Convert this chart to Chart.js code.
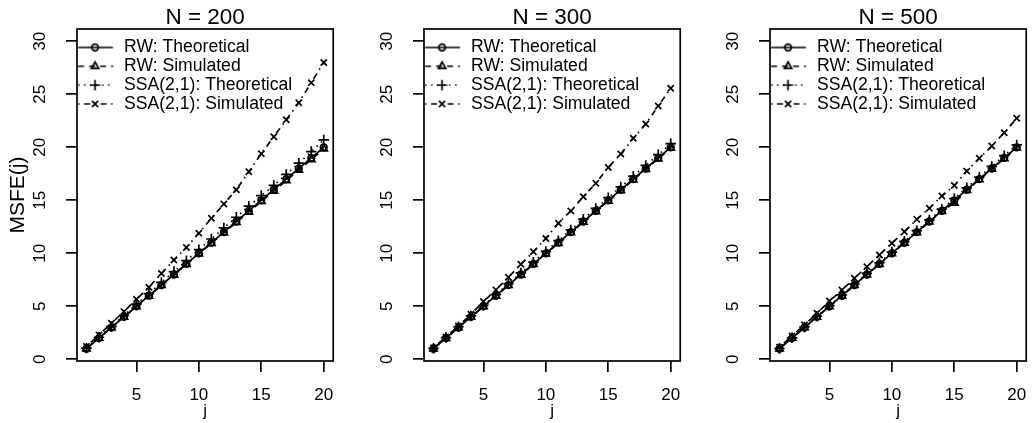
<!DOCTYPE html>
<html>
<head>
<meta charset="utf-8">
<script src="https://cdn.jsdelivr.net/npm/chart.js@4.4.1/dist/chart.umd.min.js"></script>
<style>
html,body{margin:0;padding:0;width:1033px;height:423px;overflow:hidden;background:#fff;}
.p{position:absolute;top:0;width:347px;height:423px;}
canvas{display:block;}
</style>
</head>
<body>
<div class="p" style="left:0px"><canvas id="c0" width="347" height="423"></canvas></div>
<div class="p" style="left:346.5px"><canvas id="c1" width="347" height="423"></canvas></div>
<div class="p" style="left:693px"><canvas id="c2" width="347" height="423"></canvas></div>
<script>
// ---------- data ----------
const horizons = [1,2,3,4,5,6,7,8,9,10,11,12,13,14,15,16,17,18,19,20];
const xTickValues = [5,10,15,20];
const yTickValues = [0,5,10,15,20,25,30];
const panelTitles = ['N = 200','N = 300','N = 500'];
const seriesNames = ['RW: Theoretical','RW: Simulated','SSA(2,1): Theoretical','SSA(2,1): Simulated'];

const rwTheo200 = [1,2,3,4,5,6,7,8,9,10,11,12,13,14,15,16,17,18,19,20];
const rwSim200  = [1.0,2.0,2.98,3.98,4.97,5.96,6.97,7.96,8.97,9.95,10.94,11.93,12.92,13.9,14.9,15.88,16.86,17.85,18.85,19.85];
const ssaTheo200= [1.05,2.08,3.1,4.15,5.2,6.2,7.25,8.28,9.3,10.35,11.35,12.4,13.4,14.45,15.45,16.4,17.45,18.5,19.6,20.7];
const ssaSim200 = [1.2,2.3,3.4,4.5,5.66,6.8,8.1,9.37,10.55,11.9,13.3,14.65,16.0,17.7,19.4,21.0,22.6,24.2,26.1,28.0];

const rwTheo300 = [1,2,3,4,5,6,7,8,9,10,11,12,13,14,15,16,17,18,19,20];
const rwSim300  = [1.0,1.99,2.99,3.98,4.98,5.97,6.97,7.96,8.96,9.96,10.95,11.95,12.95,13.94,14.94,15.93,16.93,17.92,18.92,19.92];
const ssaTheo300= [1.03,2.05,3.07,4.09,5.1,6.12,7.14,8.15,9.17,10.18,11.2,12.21,13.22,14.24,15.25,16.26,17.28,18.29,19.3,20.35];
const ssaSim300 = [1.1,2.1,3.15,4.25,5.45,6.55,7.74,8.96,10.15,11.4,12.83,14.0,15.34,16.6,18.1,19.37,20.85,22.2,23.9,25.57];

const rwTheo500 = [1,2,3,4,5,6,7,8,9,10,11,12,13,14,15,16,17,18,19,20];
const rwSim500  = [1.0,2.0,2.99,3.99,4.98,5.98,6.98,7.98,8.97,9.97,10.97,11.96,12.96,13.96,14.75,15.95,16.95,17.95,18.95,19.95];
const ssaTheo500= [1.02,2.03,3.05,4.06,5.07,6.08,7.09,8.1,9.11,10.12,11.13,12.14,13.15,14.16,15.17,16.18,17.19,18.2,19.21,20.22];
const ssaSim500 = [1.15,2.2,3.25,4.34,5.5,6.54,7.64,8.74,9.84,10.94,12.04,13.2,14.25,15.4,16.4,17.75,18.96,20.12,21.38,22.74];

const panels = [
  [rwTheo200, rwSim200, ssaTheo200, ssaSim200],
  [rwTheo300, rwSim300, ssaTheo300, ssaSim300],
  [rwTheo500, rwSim500, ssaTheo500, ssaSim500]
];

// ---------- styles ----------
const FONT = "'Liberation Sans', Arial, Helvetica, sans-serif";
const dashes = [[], [6,5], [1.5,4.5], [1.5,4.5,6,4.5]];
const pStyles = ['circle','triangle','cross','crossRot'];
const pRadius = [3.3, 4.2, 5.2, 4.4];
const LW = 1.7;
const LEG_FONT = 17.6;

function drawMarker(ctx, style, r, x, y) {
  if (Chart.helpers && Chart.helpers.drawPoint) {
    Chart.helpers.drawPoint(ctx, {pointStyle: style, radius: r, borderWidth: LW, rotation: 0}, x, y);
    return;
  }
  ctx.beginPath();
  if (style === 'circle') ctx.arc(x, y, r, 0, Math.PI*2);
  ctx.stroke();
}

function makeIcon(i) {
  const c = document.createElement('canvas');
  c.width = 40; c.height = 16;
  const ctx = c.getContext('2d');
  ctx.strokeStyle = '#000';
  ctx.fillStyle = 'rgba(0,0,0,0)';
  ctx.lineWidth = LW;
  ctx.setLineDash(dashes[i]);
  ctx.beginPath(); ctx.moveTo(1.3, 8); ctx.lineTo(36.3, 8); ctx.stroke();
  ctx.setLineDash([]);
  drawMarker(ctx, pStyles[i], pRadius[i], 18.3, 8);
  return c;
}
const icons = [0,1,2,3].map(makeIcon);

const boxPlugin = {
  id: 'plotBox',
  afterDatasetsDraw(chart) {
    const a = chart.chartArea, ctx = chart.ctx;
    ctx.save();
    ctx.strokeStyle = '#000';
    ctx.lineWidth = LW;
    ctx.setLineDash([]);
    ctx.strokeRect(a.left, a.top, a.right - a.left, a.bottom - a.top);
    ctx.restore();
  }
};

panels.forEach((series, p) => {
  const datasets = series.map((vals, i) => ({
    label: seriesNames[i],
    data: horizons.map((h, k) => ({x: h, y: vals[k]})),
    borderColor: '#000',
    backgroundColor: 'rgba(0,0,0,0)',
    borderWidth: LW,
    borderDash: dashes[i],
    pointStyle: pStyles[i],
    pointRadius: pRadius[i],
    pointBorderWidth: LW,
    pointBorderColor: '#000',
    pointBackgroundColor: 'rgba(0,0,0,0)',
    tension: 0,
    fill: false
  }));
  new Chart(document.getElementById('c' + p), {
    type: 'line',
    data: {datasets},
    plugins: [boxPlugin],
    options: {
      responsive: false,
      animation: false,
      devicePixelRatio: 1,
      events: [],
      layout: {padding: {left: 0, right: 4, top: 0, bottom: 0}},
      scales: {
        x: {
          type: 'linear',
          min: 0.24, max: 20.76,
          afterBuildTicks: s => { s.ticks = xTickValues.map(v => ({value: v})); },
          afterFit: s => { s.height = 62; },
          border: {display: false},
          grid: {drawOnChartArea: false, drawTicks: true, tickLength: 11, color: '#000', lineWidth: LW},
          ticks: {color: '#000', font: {family: FONT, size: 17}, padding: 13.3, maxRotation: 0, minRotation: 0, autoSkip: false,
                  callback: v => String(v)},
          title: {display: true, text: 'j', color: '#000', font: {family: FONT, size: 17}, padding: {top: 0, bottom: 1.2}}
        },
        y: {
          type: 'linear',
          min: -0.16, max: 31.16,
          afterBuildTicks: s => { s.ticks = yTickValues.map(v => ({value: v})); },
          afterFit: s => { s.width = 77; },
          border: {display: false},
          grid: {drawOnChartArea: false, drawTicks: true, tickLength: 11, color: '#000', lineWidth: LW},
          ticks: {color: '#000', font: {family: FONT, size: 17}, padding: 16.5, minRotation: 90, maxRotation: 90,
                  crossAlign: 'center', autoSkip: false, callback: v => String(v)},
          title: {display: p === 0, text: 'MSFE(j)', color: '#000', font: {family: FONT, size: 21}, padding: {top: 6, bottom: 0}}
        }
      },
      plugins: {
        title: {display: true, text: panelTitles[p], fullSize: false, color: '#000',
                font: {family: FONT, size: 22.5, weight: 'normal', lineHeight: 1}, padding: {top: 6.5, bottom: 0}},
        tooltip: {enabled: false},
        legend: {
          display: true,
          position: 'chartArea',
          align: 'start',
          title: {display: true, text: ' ', font: {size: 8, lineHeight: 1}, padding: {top: 29.5, bottom: 0}},
          labels: {
            usePointStyle: true,
            pointStyleWidth: 37,
            padding: 1.2,
            color: '#000',
            font: {family: FONT, size: LEG_FONT},
            generateLabels: () => seriesNames.map((t, i) => ({
              text: t, pointStyle: icons[i], fillStyle: 'rgba(0,0,0,0)', strokeStyle: '#000',
              lineWidth: 0, hidden: false, datasetIndex: i, fontColor: '#000'
            }))
          }
        }
      }
    }
  });
});
</script>
</body>
</html>
